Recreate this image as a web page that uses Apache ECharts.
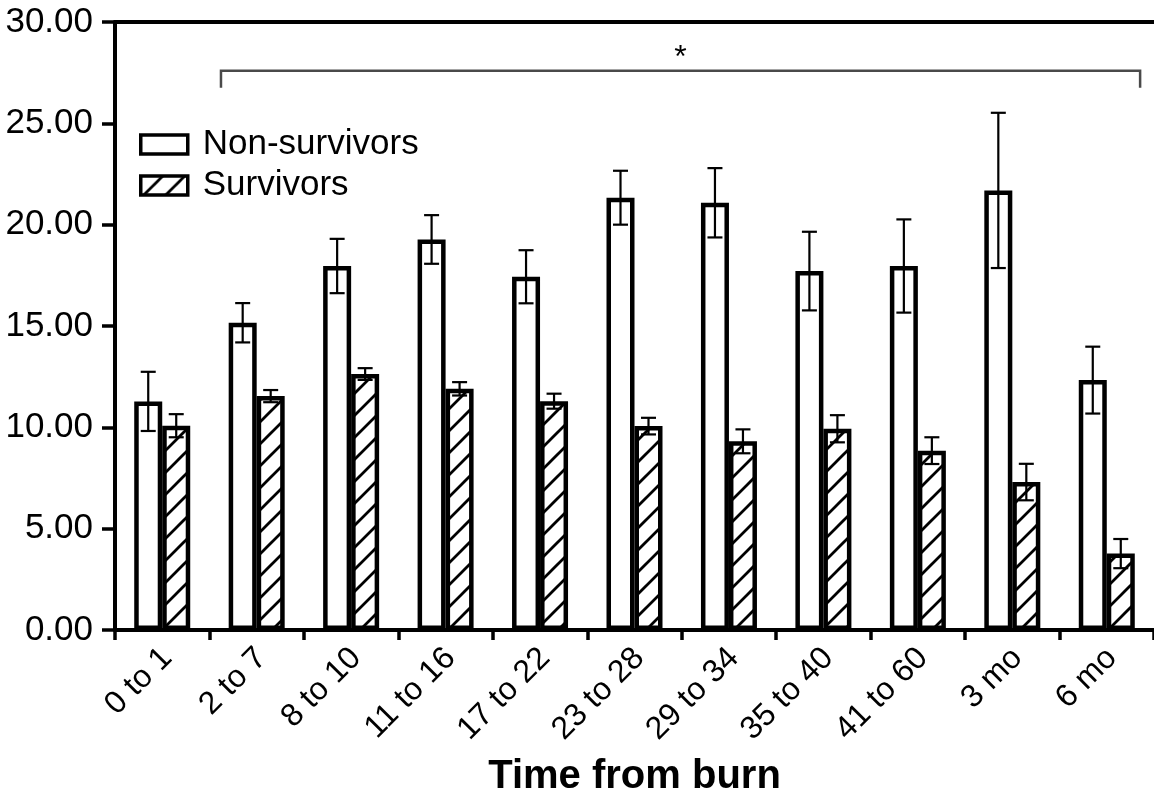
<!DOCTYPE html>
<html>
<head>
<meta charset="utf-8">
<script src="https://cdn.jsdelivr.net/npm/echarts@6/dist/echarts.min.js"></script>
<style>
html,body{margin:0;padding:0;background:#fff;}
#chart{width:1154px;height:798px;}
</style>
</head>
<body>
<div id="chart"></div>
<script>
const categories = ['0 to 1','2 to 7','8 to 10','11 to 16','17 to 22','23 to 28','29 to 34','35 to 40','41 to 60','3 mo','6 mo'];
const nonSurvivors    = [11.28, 15.16, 17.96, 19.27, 17.43, 21.33, 21.08, 17.71, 17.96, 21.69, 12.33];
const nonSurvivorsErr = [1.46, 0.97, 1.34, 1.20, 1.31, 1.33, 1.71, 1.94, 2.30, 3.83, 1.65];
const survivors       = [10.08, 11.54, 12.63, 11.90, 11.29, 10.06, 9.31, 9.93, 8.85, 7.30, 3.77];
const survivorsErr    = [0.57, 0.30, 0.29, 0.33, 0.37, 0.41, 0.59, 0.67, 0.66, 0.90, 0.72];
const yTicks = [0, 5, 10, 15, 20, 25, 30];
// significance bracket: from category 1 to category 10, label '*'
const bracketFrom = 1, bracketTo = 10, bracketY = 27.6, bracketLegY = 26.75, bracketLabel = '*';

const FONT = "'Liberation Sans', Arial, Helvetica, sans-serif";
const BAR_W = 28;

function hatchPattern(){
  const p = 22;
  const c = document.createElement('canvas');
  c.width = p; c.height = p;
  const ctx = c.getContext('2d');
  ctx.fillStyle = '#fff';
  ctx.fillRect(0,0,p,p);
  ctx.strokeStyle = '#000';
  ctx.lineWidth = 2.8;
  ctx.beginPath();
  ctx.moveTo(-3, p+3); ctx.lineTo(p+3, -3);
  ctx.moveTo(-3, 3); ctx.lineTo(3, -3);
  ctx.moveTo(p-3, p+3); ctx.lineTo(p+3, p-3);
  ctx.stroke();
  return c;
}

function errRender(sign){
  return function(params, api){
    const i = api.value(0), m = api.value(1), e = api.value(2);
    const top = api.coord([i, m + e]);
    const bot = api.coord([i, m - e]);
    const x = top[0] + sign * BAR_W / 2;
    const cap = 7.5;
    const st = {stroke:'#000', lineWidth:2.2};
    return {type:'group', children:[
      {type:'line', shape:{x1:x, y1:top[1], x2:x, y2:bot[1]}, style:st},
      {type:'line', shape:{x1:x-cap, y1:top[1], x2:x+cap, y2:top[1]}, style:st},
      {type:'line', shape:{x1:x-cap, y1:bot[1], x2:x+cap, y2:bot[1]}, style:st}
    ]};
  };
}

const chart = echarts.init(document.getElementById('chart'), null, {renderer:'canvas'});
const axisLineStyle = {color:'#000', width:4};
const option = {
  animation:false,
  backgroundColor:'#fff',
  textStyle:{fontFamily:FONT},
  grid:{left:115, right:0, top:22, bottom:168, containLabel:false, outerBoundsMode:'none'},
  legend:{
    data:['Non-survivors','Survivors'],
    orient:'vertical', left:139, top:127, padding:0,
    icon:'rect', itemWidth:47, itemHeight:19, itemGap:6,
    selectedMode:false,
    itemStyle:{borderColor:'#000', borderWidth:3.5},
    textStyle:{fontSize:35, color:'#000', fontFamily:FONT, padding:[0,0,0,10], lineHeight:34}
  },
  xAxis:[{
    type:'category', data:categories, position:'bottom',
    axisLine:{lineStyle:axisLineStyle},
    axisTick:{show:true, length:10, interval:0, lineStyle:{width:3.5, color:'#000'}},
    axisLabel:{interval:0, rotate:45, margin:28, padding:[0,-7,0,0], fontSize:32, color:'#000', fontFamily:FONT},
    name:'Time from burn', nameLocation:'middle', nameGap:127, nameMoveOverlap:false,
    nameTextStyle:{fontSize:40, fontWeight:'bold', color:'#000', fontFamily:FONT},
    splitLine:{show:false}
  },{
    type:'category', data:categories, position:'top',
    axisLine:{show:true, lineStyle:axisLineStyle},
    axisTick:{show:false}, axisLabel:{show:false}, splitLine:{show:false}
  }],
  yAxis:{
    type:'value', min:yTicks[0], max:yTicks[yTicks.length-1], interval:yTicks[1]-yTicks[0],
    axisLine:{show:true, lineStyle:axisLineStyle},
    axisTick:{show:true, length:13, lineStyle:{width:3.5, color:'#000'}},
    axisLabel:{margin:22, fontSize:35, color:'#000', fontFamily:FONT, formatter:v=>v.toFixed(2)},
    splitLine:{show:false}
  },
  series:[
    {name:'Non-survivors', type:'bar', data:nonSurvivors, barWidth:BAR_W, barGap:'0%',
     itemStyle:{color:'#fff', borderColor:'#000', borderWidth:4.5}},
    {name:'Survivors', type:'bar', data:survivors, barWidth:BAR_W, barGap:'0%',
     itemStyle:{color:{image:hatchPattern(), repeat:'repeat'}, borderColor:'#000', borderWidth:4.5}},
    {name:'nsErr', type:'custom', renderItem:errRender(-1), z:5,
     data:nonSurvivors.map((v,i)=>[i, v, nonSurvivorsErr[i]]), encode:{x:0, y:1}},
    {name:'sErr', type:'custom', renderItem:errRender(1), z:5,
     data:survivors.map((v,i)=>[i, v, survivorsErr[i]]), encode:{x:0, y:1}},
    {name:'bracket', type:'custom', z:6, clip:false,
     data:[[bracketFrom, bracketTo, bracketY, bracketLegY]], encode:{x:0, y:2},
     renderItem:function(params, api){
       const bw = api.size([1,0])[0];
       const a = api.coord([api.value(0), api.value(2)]);
       const b = api.coord([api.value(1), api.value(2)]);
       const leg = api.coord([api.value(0), api.value(3)]);
       const x1 = a[0] - 0.378*bw, x2 = b[0] + 0.353*bw;
       return {type:'group', children:[
         {type:'polyline', shape:{points:[[x1, leg[1]],[x1, a[1]],[x2, a[1]],[x2, leg[1]]]},
          style:{stroke:'#4a4a4a', lineWidth:2.5, fill:null}},
         {type:'text', style:{text:bracketLabel, x:(x1+x2)/2, y:a[1]-12, align:'center', verticalAlign:'middle',
          fontSize:32, fill:'#000', fontFamily:FONT}}
       ]};
     }}
  ]
};
chart.setOption(option);
</script>
</body>
</html>
